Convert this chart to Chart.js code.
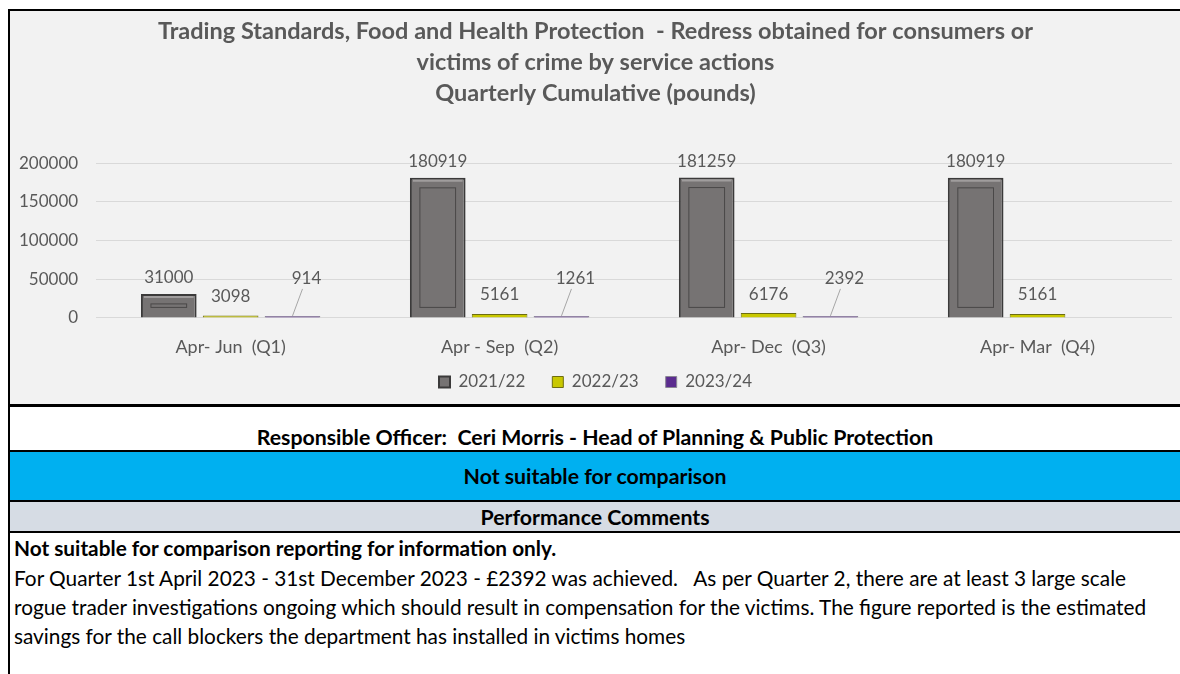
<!DOCTYPE html>
<html>
<head>
<meta charset="utf-8">
<script src="https://cdn.jsdelivr.net/npm/chart.js@4.4.1/dist/chart.umd.min.js"></script>
<style>
  body { margin: 0; background: #fff; font-family: Lato, "Open Sans", sans-serif; }
  #page { position: relative; width: 1180px; height: 674px; overflow: hidden; }
  #chartBox { position: absolute; left: 10px; top: 11px; width: 1170px; height: 393px; background: #f2f2f2; }
  .line { position: absolute; left: 8px; right: 0; background: #000; }
  .vline { position: absolute; left: 8px; top: 9px; width: 2px; height: 665px; background: #000; }
  .row { position: absolute; left: 10px; right: 0; display: flex; align-items: center; justify-content: center;
         font-weight: bold; font-size: 21.3px; color: #000; white-space: nowrap; }
  .txt { position: absolute; left: 14px; font-size: 20.8px; line-height: 25px; color: #000; white-space: nowrap; }
</style>
</head>
<body>
<div id="page">
  <div id="chartBox"><canvas id="chart" width="1170" height="393"></canvas></div>
  <div class="line" style="top:9px;height:2px"></div>
  <div class="line" style="top:404px;height:3px"></div>
  <div class="row" style="top:407px;height:43px"><span style="position:relative;top:8px">Responsible Officer:&nbsp; Ceri Morris - Head of Planning &amp; Public Protection</span></div>
  <div class="line" style="top:450px;height:2px"></div>
  <div class="row" style="top:452px;height:48px;background:#00b0f0">Not suitable for comparison</div>
  <div class="line" style="top:500px;height:2px"></div>
  <div class="row" style="top:502px;height:29px;background:#d6dce4">Performance Comments</div>
  <div class="line" style="top:531px;height:2px"></div>
  <div class="txt" style="top:535px;font-weight:bold">Not suitable for comparison reporting for information only.</div>
  <div class="txt" style="top:565px">For Quarter 1st April 2023 - 31st December 2023 - £2392 was achieved.&nbsp;&nbsp; As per Quarter 2, there are at least 3 large scale</div>
  <div class="txt" style="top:594px">rogue trader investigations ongoing which should result in compensation for the victims. The figure reported is the estimated</div>
  <div class="txt" style="top:623px">savings for the call blockers the department has installed in victims homes</div>
  <div class="vline"></div>
</div>
<script>
// Data
const quarters = ["Apr- Jun  (Q1)", "Apr - Sep  (Q2)", "Apr- Dec  (Q3)", "Apr- Mar  (Q4)"];
const years = ["2021/22", "2022/23", "2023/24"];
const values2122 = [31000, 180919, 181259, 180919];
const values2223 = [3098, 5161, 6176, 5161];
const values2324 = [914, 1261, 2392, null];
const yTicks = [0, 50000, 100000, 150000, 200000];

const textGray = "#595959";

// value labels above bars, leader line for the small 2023/24 bars
const valueLabels = {
  id: "valueLabels",
  afterDatasetsDraw(chart) {
    const ctx = chart.ctx;
    const lift = [16, 19, 37];
    ctx.save();
    ctx.font = "17px Lato";
    ctx.fillStyle = textGray;
    ctx.textAlign = "center";
    ctx.textBaseline = "middle";
    chart.data.datasets.forEach((ds, i) => {
      chart.getDatasetMeta(i).data.forEach((bar, j) => {
        const v = ds.data[j];
        if (v == null) return;
        const ty = bar.y - lift[i];
        if (i === 2) {
          ctx.strokeStyle = "#a6a6a6";
          ctx.lineWidth = 1;
          ctx.beginPath();
          ctx.moveTo(bar.x + 10, ty + 10);
          ctx.lineTo(bar.x, bar.y);
          ctx.stroke();
          ctx.fillText(v, bar.x + 14, ty);
        } else {
          ctx.fillText(v, bar.x, ty);
        }
      });
    });
    ctx.restore();
  },
};

// bevel look for the big bars
const bevel = {
  id: "bevel",
  afterDatasetsDraw(chart) {
    const ctx = chart.ctx;
    ctx.save();
    chart.getDatasetMeta(0).data.forEach((bar) => {
      const w = bar.width;
      const left = bar.x - w / 2;
      const h = bar.base - bar.y;
      ctx.strokeStyle = "#a09d9d";
      ctx.lineWidth = 2;
      ctx.beginPath();
      ctx.moveTo(left + 3, bar.y + 3);
      ctx.lineTo(left + w - 3, bar.y + 3);
      ctx.stroke();
      ctx.strokeStyle = "#4a4848";
      ctx.lineWidth = 1;
      ctx.strokeRect(left + 10, bar.y + 10, w - 20, Math.max(h - 20, 2));
    });
    ctx.restore();
  },
};

// legend padding is wide for item spacing, pull the row back up
const legendLift = {
  id: "legendLift",
  afterLayout(chart) {
    chart.legend.top -= 11;
    chart.legend.bottom -= 11;
  },
};

new Chart(document.getElementById("chart"), {
  type: "bar",
  data: {
    labels: quarters,
    datasets: [
      {
        label: years[0],
        data: values2122,
        backgroundColor: "#767373",
        borderColor: "#3b3a3a",
        borderWidth: 2,
      },
      {
        label: years[1],
        data: values2223,
        backgroundColor: "#c9c800",
        borderColor: "#6e6d10",
        borderWidth: 1,
      },
      {
        label: years[2],
        data: values2324,
        backgroundColor: "#5b2c8f",
        borderColor: "#8a8794",
        borderWidth: 1,
        minBarLength: 2,
      },
    ],
  },
  options: {
    responsive: false,
    animation: false,
    categoryPercentage: 0.69,
    barPercentage: 0.9,
    layout: { padding: { left: 9, right: 8, top: 0, bottom: 3.5 } },
    plugins: {
      title: {
        display: true,
        text: [
          "Trading Standards, Food and Health Protection  - Redress obtained for consumers or",
          "victims of crime by service actions",
          "Quarterly Cumulative (pounds)",
        ],
        color: textGray,
        font: { family: "Lato", size: 23.5, weight: "bold", lineHeight: 1.32 },
        padding: { top: 5, bottom: 54 },
      },
      legend: {
        position: "bottom",
        maxHeight: 43,
        labels: {
          color: textGray,
          font: { family: "Lato", size: 17 },
          boxWidth: 11,
          boxHeight: 11,
          padding: 27,
        },
      },
      tooltip: { enabled: false },
    },
    scales: {
      x: {
        grid: { display: false, drawTicks: false },
        border: { display: false },
        ticks: { color: textGray, font: { family: "Lato", size: 18 }, padding: 18 },
        afterFit: (scale) => { scale.height -= 18; },
      },
      y: {
        min: 0,
        max: 200000,
        afterBuildTicks: (axis) => { axis.ticks = yTicks.map((v) => ({ value: v })); },
        grid: { color: "#d9d9d9", drawTicks: false },
        border: { display: false },
        ticks: {
          color: textGray,
          font: { family: "Lato", size: 17 },
          padding: 18,
          callback: (v) => String(v),
        },
        afterFit: (scale) => { scale.width -= 18; },
      },
    },
  },
  plugins: [valueLabels, bevel, legendLift],
});
</script>
</body>
</html>
